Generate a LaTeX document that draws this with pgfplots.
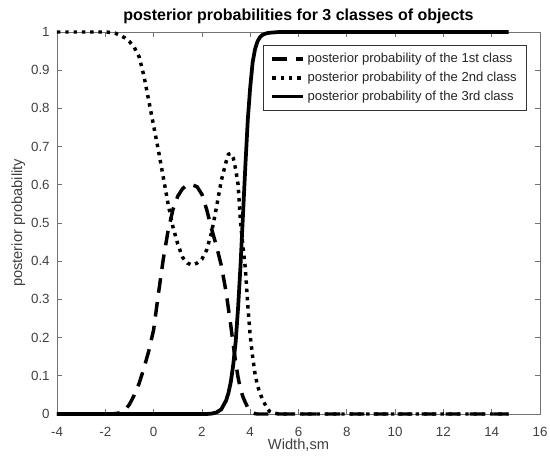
\documentclass[border=0pt]{standalone}
\usepackage{pgfplots}
\usepackage{pgfplotstable}
\pgfplotsset{compat=1.18}
\usepackage{fontspec}
\setmainfont{Liberation Sans}
\pgfplotstableread{
x p1 p2 p3
-4.0 0 1 0
-3.0 0 1 0
-2.4 0 1 0
-2.2 0 1 0
-2.0 0 1 0
-1.8 0 0.999 0
-1.6 0.001 0.997 0
-1.4 0.003 0.992 0
-1.2 0.01 0.985 0
-1.0 0.025 0.975 0
-0.8 0.05 0.96 0
-0.6 0.08 0.935 0
-0.4 0.12 0.885 0
-0.2 0.165 0.82 0
0.0 0.22 0.755 0
0.2 0.315 0.69 0
0.4 0.405 0.62 0
0.6 0.48 0.55 0
0.8 0.535 0.49 0
1.0 0.57 0.445 0
1.2 0.59 0.41 0
1.4 0.6 0.395 0
1.6 0.6 0.39 0
1.8 0.595 0.395 0
2.0 0.575 0.405 0
2.2 0.535 0.43 0
2.4 0.485 0.475 0.001
2.6 0.44 0.54 0.004
2.8 0.39 0.61 0.012
3.0 0.32 0.66 0.035
3.1 0.275 0.68 0.055
3.2 0.23 0.682 0.085
3.3 0.18 0.67 0.13
3.4 0.135 0.64 0.19
3.5 0.095 0.60 0.28
3.6 0.065 0.50 0.39
3.7 0.045 0.44 0.52
3.8 0.03 0.38 0.65
3.9 0.017 0.285 0.77
4.0 0.008 0.205 0.855
4.1 0.004 0.15 0.92
4.2 0.001 0.105 0.955
4.3 0 0.075 0.975
4.4 0 0.055 0.986
4.5 0 0.04 0.992
4.6 0 0.027 0.995
4.7 0 0.015 0.997
4.8 0 0.007 0.998
5.0 0 0.002 0.999
5.2 0 0 1
5.5 0 0 1
6.0 0 0 1
8.0 0 0 1
10.0 0 0 1
12.0 0 0 1
14.7 0 0 1
}\datatable
\begin{document}
\begin{tikzpicture}
\path[use as bounding box] (-42.75pt,-35.25pt) rectangle (369.75pt,310.5pt);
\begin{axis}[
  scale only axis, width=362.25pt, height=286.5pt,
  xmin=-4, xmax=16, ymin=0, ymax=1,
  xtick={-4,-2,...,16}, ytick={0,0.1,...,1},
  tick align=inside, major tick length=3.75pt,
  axis line style={black!55, line width=0.5pt},
  tick style={black!55, line width=0.5pt},
  ticklabel style={font=\fontsize{10}{12}\selectfont, text=black!75},
  /pgf/number format/assume math mode=true,
  xticklabel style={anchor=center, yshift=-13.5pt},
  yticklabel style={anchor=east, xshift=-2pt},
  clip=false,
  every axis title shift=0pt,
  title={posterior probabilities for 3 classes of objects},
  title style={font=\bfseries\fontsize{12}{14}\selectfont, at={(axis description cs:0.5,1.04)}, anchor=center},
  xlabel={Width,sm}, ylabel={posterior probability},
  label style={font=\fontsize{11}{13}\selectfont, text=black!75},
  xlabel style={at={(axis description cs:0.5,-0.081)}, anchor=center},
  ylabel style={at={(axis description cs:-0.08,0.5)}, anchor=center, rotate=0},
  legend cell align=left,
  legend image code/.code={\draw[#1] (0pt,0pt) -- (23pt,0pt);},
  legend style={at={(axis description cs:1,1)}, anchor=north east, xshift=-9.75pt, yshift=-9.75pt,
    font=\fontsize{9.8}{11}\selectfont, draw=black!80, line width=0.4pt, fill=white,
    inner xsep=5.5pt, inner ysep=4pt, row sep=1.5pt, text=black!85},
]
\addplot[black, line width=2.6pt, dash pattern=on 11pt off 7pt] table[x=x, y=p1] {\datatable};
\addlegendentry{posterior probability of the 1st class}
\addplot[black, line width=2.6pt, dash pattern=on 2.6pt off 3.6pt] table[x=x, y=p2] {\datatable};
\addlegendentry{posterior probability of the 2nd class}
\addplot[black, line width=2.8pt] table[x=x, y=p3] {\datatable};
\addlegendentry{posterior probability of the 3rd class}
\end{axis}
\end{tikzpicture}
\end{document}
